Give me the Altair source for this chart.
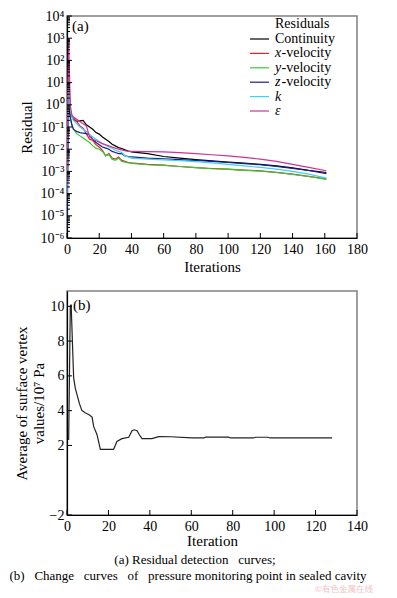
import altair as alt
import pandas as pd

# ---------------- data: panel (a) residuals (log10 of residual) ----------------
iterations = [0, 1, 2, 3, 4, 6, 8, 10, 12, 14, 16, 18, 20, 22, 24, 26, 28, 30, 32, 34,
              36, 38, 40, 50, 60, 70, 80, 90, 100, 110, 120, 130, 140, 150, 161]
series_names = ["Continuity", "x-velocity", "y-velocity", "z-velocity", "k", "ε"]
series_colors = ["#000000", "#e8202a", "#33cc33", "#1c1c96", "#3cd2f0", "#cc3399"]

log_continuity = [-3.0, 0.0, -0.3, -0.5, -0.65, -0.75, -0.72, -0.7, -0.9, -1.0, -1.1, -1.25, -1.32,
                  -1.45, -1.55, -1.65, -1.78, -1.85, -1.93, -1.97, -2.03, -2.08, -2.12, -2.2, -2.33,
                  -2.4, -2.47, -2.53, -2.58, -2.63, -2.68, -2.75, -2.84, -2.95, -3.05]
log_xvel = [-4.0, 2.0, -0.3, -0.5, -0.6, -0.75, -0.95, -1.05, -1.3, -1.55, -1.6, -1.8, -1.9,
            -2.05, -2.3, -2.2, -2.4, -2.45, -2.35, -2.5, -2.55, -2.6, -2.62, -2.68, -2.72,
            -2.78, -2.83, -2.87, -2.9, -2.94, -2.98, -3.04, -3.12, -3.22, -3.34]
log_yvel = [-4.5, 1.5, -0.6, -0.9, -1.1, -1.3, -1.4, -1.5, -1.6, -1.7, -1.85, -1.95, -2.0,
            -2.1, -2.3, -2.25, -2.45, -2.5, -2.4, -2.55, -2.58, -2.62, -2.64, -2.7, -2.73,
            -2.78, -2.83, -2.88, -2.91, -2.95, -2.99, -3.05, -3.13, -3.23, -3.36]
log_zvel = [-5.6, -0.2, -0.5, -0.9, -1.1, -1.2, -1.25, -1.28, -1.3, -1.35, -1.55, -1.7, -1.8,
            -1.9, -1.95, -2.0, -2.1, -2.15, -2.2, -2.2, -2.3, -2.33, -2.35, -2.4, -2.43,
            -2.47, -2.51, -2.55, -2.6, -2.65, -2.7, -2.77, -2.86, -2.96, -3.1]
log_k = [-4.0, 1.0, -0.2, -0.5, -0.7, -0.85, -1.0, -1.1, -1.2, -1.35, -1.45, -1.55, -1.65,
         -1.75, -1.82, -1.9, -1.95, -2.05, -2.1, -2.15, -2.3, -2.35, -2.4, -2.45, -2.48,
         -2.52, -2.56, -2.62, -2.68, -2.75, -2.82, -2.9, -3.0, -3.12, -3.3]
log_eps = [-3.5, 3.0, 0.0, -0.45, -0.55, -0.65, -0.75, -0.85, -0.95, -1.45, -1.55, -1.62, -1.68,
           -1.75, -1.8, -1.85, -1.9, -1.95, -2.0, -2.03, -2.07, -2.1, -2.1, -2.11, -2.12,
           -2.15, -2.2, -2.25, -2.3, -2.37, -2.45, -2.55, -2.68, -2.82, -2.97]

# ---------------- data: panel (b) pressure monitoring ----------------
b_iter = [0.8, 1.6, 2.0, 3.2, 4.0, 4.8, 6.0, 7.2, 8.0, 8.9, 10.5, 12.1, 12.9, 14.5, 16.1, 22.5,
          24.1, 26.5, 29.8, 31.4, 32.5, 33.8, 35.0, 36.2, 41.0, 44.3, 50.0, 60.3, 66.0, 67.0,
          78.0, 79.0, 90.0, 91.0, 97.0, 98.0, 128.0]
b_value = [2.31, 10.0, 10.1, 5.9, 5.3, 4.94, 4.4, 4.0, 3.95, 3.86, 3.78, 3.63, 3.08, 2.62, 1.77,
           1.77, 2.23, 2.39, 2.47, 2.85, 2.9, 2.85, 2.6, 2.39, 2.39, 2.51, 2.5, 2.43, 2.43, 2.48,
           2.48, 2.43, 2.43, 2.47, 2.47, 2.43, 2.43]

# axis tick values
a_xticks = list(range(0, 181, 20))
a_major_exp = list(range(-6, 5))
a_minor_mult = [2, 3, 4, 5, 6, 7, 8, 9]
b_xticks = list(range(0, 141, 20))
b_yticks = [-2, 2, 4, 6, 8, 10]

legend_prefix = ["", "x", "y", "z", "k", "ε"]
legend_suffix = ["Continuity", "-velocity", "-velocity", "-velocity", "", ""]

NB3 = "\u00a0\u00a0\u00a0"
caption_a = "(a) Residual detection" + NB3 + "curves;"
caption_b = ("(b)" + NB3 + "Change" + NB3 + "curves" + NB3 + "of" + NB3
             + "pressure monitoring point in sealed cavity")
watermark = "©有色金属在线"

# ---------------- tables ----------------
all_logs = [log_continuity, log_xvel, log_yvel, log_zvel, log_k, log_eps]
rows = []
for name, logs in zip(series_names, all_logs):
    for it, lv in zip(iterations, logs):
        rows.append({"iteration": it, "residual": 10.0 ** lv, "series": name})
df_a = pd.DataFrame(rows)

df_a_major = pd.DataFrame({"residual": [10.0 ** e for e in a_major_exp]})
df_a_minor = pd.DataFrame({"residual": [m * 10.0 ** e for e in a_major_exp[:-1] for m in a_minor_mult]})
df_a_xt = pd.DataFrame({"iteration": a_xticks})
df_leg = pd.DataFrame({"series": series_names, "prefix": legend_prefix, "suffix": legend_suffix})

df_b = pd.DataFrame({"iteration": b_iter, "value": b_value})
df_b_xt = pd.DataFrame({"iteration": b_xticks})
df_b_yt = pd.DataFrame({"value": b_yticks})

FONT = "Liberation Serif"
W = 290
H1 = 222
H2 = 224

# ---------------- panel (a) ----------------
xa_scale = alt.Scale(domain=[0, 180], nice=False)
ya_scale = alt.Scale(type="log", domain=[1e-6, 1e4], nice=False)
color = alt.Color("series:N", scale=alt.Scale(domain=series_names, range=series_colors), legend=None)

sup = "'⁰¹²³⁴⁵⁶⁷⁸⁹'"
ex = "round(log(datum.value)/LN10)"
label_expr = f"'10' + ({ex} < 0 ? '⁻' : '') + substring({sup}, abs({ex}), abs({ex}) + 1)"

xa_axis = alt.Axis(values=a_xticks, tickCount=len(a_xticks), title="Iterations", labelPadding=4,
                   titlePadding=3, labelOverlap=False, labelFlush=False)
xa = alt.X("iteration:Q", scale=xa_scale, axis=xa_axis)

lines_a = alt.Chart(df_a).mark_line(strokeWidth=1.2, clip=True).encode(
    x=xa,
    y=alt.Y("residual:Q", scale=ya_scale,
            axis=alt.Axis(values=[10.0 ** e for e in a_major_exp], labelExpr=label_expr,
                          title="Residual", labelPadding=3, titlePadding=6, labelOverlap=False)),
    color=color,
    detail="series:N",
)
maj_a = alt.Chart(df_a_major).mark_rule(color="black", strokeWidth=1).encode(
    y=alt.Y("residual:Q", scale=ya_scale, axis=None), x=alt.value(0), x2=alt.value(5))
min_a = alt.Chart(df_a_minor).mark_rule(color="black", strokeWidth=1).encode(
    y=alt.Y("residual:Q", scale=ya_scale, axis=None), x=alt.value(0), x2=alt.value(3))
xt_a = alt.Chart(df_a_xt).mark_rule(color="black", strokeWidth=1).encode(
    x=xa, y=alt.value(H1), y2=alt.value(H1 - 5))
lab_a = alt.Chart(pd.DataFrame({"t": ["(a)"]})).mark_text(
    align="left", baseline="middle", font=FONT, fontSize=15).encode(
    text="t:N", x=alt.value(5), y=alt.value(10))

ly = alt.Y("series:N", scale=alt.Scale(type="point", domain=series_names, range=[23, 95], padding=0),
           axis=None)
leg_rule = alt.Chart(df_leg).mark_rule(strokeWidth=1.2).encode(
    y=ly, x=alt.value(183), x2=alt.value(202), color=color)
leg_pre = alt.Chart(df_leg).mark_text(align="left", baseline="middle", font=FONT, fontSize=14,
                                      fontStyle="italic").encode(
    y=ly, x=alt.value(208), text="prefix:N")
leg_cont = alt.Chart(df_leg).transform_filter(alt.datum.prefix == "").mark_text(
    align="left", baseline="middle", font=FONT, fontSize=14).encode(
    y=ly, x=alt.value(208), text="suffix:N")
leg_vel = alt.Chart(df_leg).transform_filter(alt.datum.suffix == "-velocity").mark_text(
    align="left", baseline="middle", font=FONT, fontSize=14).encode(
    y=ly, x=alt.value(214.5), text="suffix:N")
leg_title = alt.Chart(pd.DataFrame({"t": ["Residuals"]})).mark_text(
    align="left", baseline="middle", font=FONT, fontSize=14).encode(
    text="t:N", x=alt.value(208), y=alt.value(8))

panel_a = alt.layer(lines_a, maj_a, min_a, xt_a, lab_a,
                    leg_rule, leg_pre, leg_cont, leg_vel, leg_title).resolve_scale(
    y="independent").properties(width=W, height=H1)

# ---------------- panel (b) ----------------
xb_scale = alt.Scale(domain=[0, 140], nice=False)
yb_scale = alt.Scale(domain=[-2, 10.88], nice=False, zero=False)

line_b = alt.Chart(df_b).mark_line(color="#222222", strokeWidth=1.2).encode(
    x=alt.X("iteration:Q", scale=xb_scale,
            axis=alt.Axis(values=b_xticks, title="Iteration", labelPadding=4, titlePadding=0,
                          labelOverlap=False, labelFlush=False)),
    y=alt.Y("value:Q", scale=yb_scale,
            axis=alt.Axis(values=b_yticks, title=["Average of surface vertex", "values/10⁷ Pa"],
                          labelPadding=3, titlePadding=3, labelOverlap=False)),
)
yt_b = alt.Chart(df_b_yt).mark_rule(color="black", strokeWidth=1).encode(
    y=alt.Y("value:Q", scale=yb_scale), x=alt.value(0), x2=alt.value(5))
xt_b = alt.Chart(df_b_xt).mark_rule(color="black", strokeWidth=1).encode(
    x=alt.X("iteration:Q", scale=xb_scale), y=alt.value(H2), y2=alt.value(H2 - 5))
lab_b = alt.Chart(pd.DataFrame({"t": ["(b)"]})).mark_text(
    align="left", baseline="middle", font=FONT, fontSize=15).encode(
    text="t:N", x=alt.value(6), y=alt.value(14))
cap_a = alt.Chart(pd.DataFrame({"t": [caption_a]})).mark_text(
    align="center", baseline="middle", font=FONT, fontSize=13).encode(
    text="t:N", x=alt.value(128), y=alt.value(268.5))
cap_b = alt.Chart(pd.DataFrame({"t": [caption_b]})).mark_text(
    align="center", baseline="middle", font=FONT, fontSize=13).encode(
    text="t:N", x=alt.value(121), y=alt.value(284.5))
wm = alt.Chart(pd.DataFrame({"t": [watermark]})).mark_text(
    align="right", baseline="middle", font="Noto Sans CJK SC", fontSize=8.5, color="#f2c4c4").encode(
    text="t:N", x=alt.value(306), y=alt.value(297.5))

panel_b = alt.layer(line_b, yt_b, xt_b, lab_b, cap_a, cap_b, wm).properties(width=W, height=H2)

chart = alt.vconcat(panel_a, panel_b, spacing=15).properties(
    padding={"left": 0, "top": 0, "right": 4, "bottom": 0}
).configure_axis(
    grid=False, tickSize=0, domainColor="black", domainWidth=1.2, labelOverlap=False,
    labelFont=FONT, labelFontSize=14, labelColor="black",
    titleFont=FONT, titleFontSize=15, titleFontWeight="normal", titleColor="black",
).configure_view(stroke="#808080", strokeWidth=1.5)

chart.save("out.html", embed_options={"renderer": "svg", "actions": False})
